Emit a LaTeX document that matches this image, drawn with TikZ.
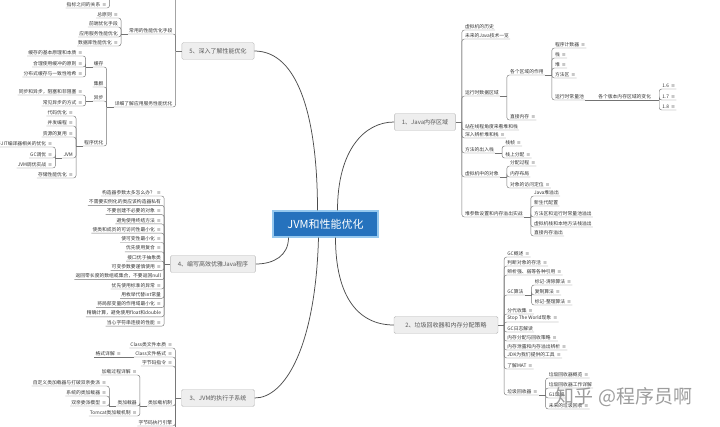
\documentclass[tikz,border=0pt]{standalone}
\usepackage{fontspec}
\setmainfont{Noto Sans CJK SC}
\newfontfamily\symfont{DejaVu Sans}
\usetikzlibrary{calc}

\definecolor{rootblue}{RGB}{38,114,189}
\definecolor{rootrim}{RGB}{150,200,238}
\definecolor{topicfill}{RGB}{238,238,238}
\definecolor{topicline}{RGB}{185,185,185}
\definecolor{twiggray}{RGB}{115,115,115}
\newcommand{\notemark}{\hspace{2pt}{\symfont\color{black!55}≡}}

\begin{document}
\begin{tikzpicture}[x=1pt, y=-1pt,
    rootbox/.style={fill=rootblue, draw=rootrim, line width=1.2pt, text=white, font=\fontsize{11}{13}\selectfont, minimum width=105pt, minimum height=26pt},
    topicbox/.style={fill=topicfill, draw=topicline, rounded corners=1.5pt, text=black!65, font=\fontsize{6}{7}\selectfont, inner xsep=7.5pt, minimum height=17pt},
    leafl/.style={anchor=south east, inner xsep=1pt, inner ysep=1.2pt, text=black!80, font=\fontsize{4.8}{5.5}\selectfont},
    leafr/.style={leafl, anchor=south west},
    mainline/.style={draw=black!70, line width=0.75pt},
    twig/.style={draw=twiggray, line width=0.45pt, rounded corners=2.5pt}
]
\useasboundingbox (0,0) rectangle (720,427);
\clip (0,0) rectangle (720,427);

% centre and main topics
\node[rootbox] (jvm) at (325.5,224) {JVM和性能优化};
\node[topicbox] (mem) at (425,122) {1、Java内存区域};
\node[topicbox, minimum width=104pt] (gc) at (446,325) {2、垃圾回收器和内存分配策略};
\node[topicbox, minimum width=73pt] (exec) at (218,398) {3、JVM的执行子系统};
\node[topicbox] (code) at (213,264) {4、编写高效优雅Java程序};
\node[topicbox] (deep) at (218,51) {5、深入了解性能优化};

\draw[mainline] ([xshift=12pt]jvm.north) .. controls +(0,-60) and +(-30,0) .. (mem.west);
\draw[mainline] ([xshift=10pt]jvm.south) .. controls +(0,60) and +(-35,0) .. (gc.west);
\draw[mainline] ([xshift=-7pt]jvm.south) .. controls +(-3,110) and +(30,0) .. (exec.east);
\draw[mainline] ([xshift=-37pt]jvm.south) .. controls +(0,18) and +(18,0) .. (code.east);
\draw[mainline] ([xshift=-8pt]jvm.north) .. controls +(0,-90) and +(45,0) .. (deep.east);

% 1 memory areas
\draw[twig] (mem.east) -- ++(6,0) coordinate (memF);
\node[leafr] (hist) at ($(mem.east)+(8,-92)$) {虚拟机的历史};
\node[leafr] (future) at ($(mem.east)+(8,-83)$) {未来的Java技术一览};
\node[leafr] (runtime) at ($(mem.east)+(8,-26)$) {运行时数据区域};
\node[leafr] (thread) at ($(mem.east)+(8,8)$) {站在线程角度来看堆和栈};
\node[leafr] (heapStack) at ($(mem.east)+(8,16)$) {深入辨析堆和栈\notemark};
\node[leafr] (frameIO) at ($(mem.east)+(8,31)$) {方法的出入栈};
\node[leafr] (objects) at ($(mem.east)+(8,55)$) {虚拟机中的对象};
\node[leafr] (heapOOM) at ($(mem.east)+(8,95)$) {堆参数设置和内存溢出实战};
\foreach \c in {hist,future,runtime,thread,heapStack,frameIO,objects,heapOOM}
  \draw[twig] (memF) |- (\c.south east);

\draw[twig] (runtime.south east) -- ++(7,0) coordinate (runtimeF);
\node[leafr] (areas) at ($(runtime.south east)+(9,-21)$) {各个区域的作用};
\node[leafr] (direct) at ($(runtime.south east)+(9,24)$) {直接内存\notemark};
\foreach \c in {areas,direct} \draw[twig] (runtimeF) |- (\c.south east);

\draw[twig] (areas.south east) -- ++(7,0) coordinate (areasF);
\node[leafr] (pc) at ($(areas.south east)+(9,-27)$) {程序计数器\notemark};
\node[leafr] (stack) at ($(areas.south east)+(9,-17)$) {栈\notemark};
\node[leafr] (heap) at ($(areas.south east)+(9,-7)$) {堆\notemark};
\node[leafr] (method) at ($(areas.south east)+(9,3)$) {方法区\notemark};
\node[leafr] (pool) at ($(areas.south east)+(9,25)$) {运行时常量池};
\foreach \c in {pc,stack,heap,method,pool} \draw[twig] (areasF) |- (\c.south east);

\node[leafr] (versions) at ($(pool.south east)+(12,0)$) {各个版本内存区域的变化};
\draw[twig] (pool.south east) -- (versions.south east);
\draw[twig] (versions.south east) -- ++(7,0) coordinate (versionsF);
\node[leafr] (v16) at ($(versions.south east)+(9,-11)$) {1.6\notemark};
\node[leafr] (v17) at ($(versions.south east)+(9,0)$) {1.7\notemark};
\node[leafr] (v18) at ($(versions.south east)+(9,10)$) {1.8\notemark};
\foreach \c in {v16,v17,v18} \draw[twig] (versionsF) |- (\c.south east);

\draw[twig] (frameIO.south east) -- ++(7,0) coordinate (frameIOF);
\node[leafr] (frame) at ($(frameIO.south east)+(9,-7)$) {栈帧\notemark};
\node[leafr] (stackAlloc) at ($(frameIO.south east)+(9,5)$) {栈上分配\notemark};
\foreach \c in {frame,stackAlloc} \draw[twig] (frameIOF) |- (\c.south east);

\draw[twig] (objects.south east) -- ++(7,0) coordinate (objectsF);
\node[leafr] (objAlloc) at ($(objects.south east)+(9,-11)$) {分配过程\notemark};
\node[leafr] (objLayout) at ($(objects.south east)+(9,0)$) {内存布局};
\node[leafr] (objLocate) at ($(objects.south east)+(9,11)$) {对象的访问定位\notemark};
\foreach \c in {objAlloc,objLayout,objLocate} \draw[twig] (objectsF) |- (\c.south east);

\draw[twig] (heapOOM.south east) -- ++(7,0) coordinate (heapOOMF);
\node[leafr] (oom1) at ($(heapOOM.south east)+(9,-21)$) {Java堆溢出};
\node[leafr] (oom2) at ($(heapOOM.south east)+(9,-11)$) {新生代配置};
\node[leafr] (oom3) at ($(heapOOM.south east)+(9,0)$) {方法区和运行时常量池溢出};
\node[leafr] (oom4) at ($(heapOOM.south east)+(9,10)$) {虚拟机栈和本地方法栈溢出};
\node[leafr] (oom5) at ($(heapOOM.south east)+(9,19)$) {直接内存溢出};
\foreach \c in {oom1,oom2,oom3,oom4,oom5} \draw[twig] (heapOOMF) |- (\c.south east);

% 2 garbage collection
\draw[twig] (gc.east) -- ++(6,0) coordinate (gcF);
\node[leafr] (gcIntro) at ($(gc.east)+(8,-68)$) {GC概述\notemark};
\node[leafr] (alive) at ($(gc.east)+(8,-59)$) {判断对象的存活\notemark};
\node[leafr] (refs) at ($(gc.east)+(8,-50)$) {辨析强、弱等各种引用\notemark};
\node[leafr] (algo) at ($(gc.east)+(8,-30)$) {GC算法};
\node[leafr] (gen) at ($(gc.east)+(8,-11)$) {分代收集\notemark};
\node[leafr] (stw) at ($(gc.east)+(8,-3)$) {Stop The World现象\notemark};
\node[leafr] (gcLog) at ($(gc.east)+(8,7)$) {GC日志解读};
\node[leafr] (allocRule) at ($(gc.east)+(8,16)$) {内存分配与回收策略\notemark};
\node[leafr] (leak) at ($(gc.east)+(8,25)$) {内存泄露和内存溢出辨析\notemark};
\node[leafr] (tools) at ($(gc.east)+(8,33)$) {JDK为我们提供的工具\notemark};
\node[leafr] (mat) at ($(gc.east)+(8,44)$) {了解MAT\notemark};
\node[leafr] (collectors) at ($(gc.east)+(8,70)$) {垃圾回收器\notemark};
\foreach \c in {gcIntro,alive,refs,algo,gen,stw,gcLog,allocRule,leak,tools,mat,collectors}
  \draw[twig] (gcF) |- (\c.south east);

\draw[twig] (algo.south east) -- ++(7,0) coordinate (algoF);
\node[leafr] (markSweep) at ($(algo.south east)+(9,-10)$) {标记-清除算法\notemark};
\node[leafr] (copying) at ($(algo.south east)+(9,0)$) {复制算法\notemark};
\node[leafr] (markCompact) at ($(algo.south east)+(9,10)$) {标记-整理算法\notemark};
\foreach \c in {markSweep,copying,markCompact} \draw[twig] (algoF) |- (\c.south east);

\draw[twig] (collectors.south east) -- ++(7,0) coordinate (collectorsF);
\node[leafr] (colAll) at ($(collectors.south east)+(9,-17)$) {垃圾回收器概览\notemark};
\node[leafr] (colWork) at ($(collectors.south east)+(9,-7)$) {垃圾回收器工作详解};
\node[leafr] (colG1) at ($(collectors.south east)+(9,3)$) {G1详解};
\node[leafr] (colNext) at ($(collectors.south east)+(9,14)$) {未来的垃圾回收\notemark};
\foreach \c in {colAll,colWork,colG1,colNext} \draw[twig] (collectorsF) |- (\c.south east);

% 3 execution subsystem
\draw[twig] (exec.west) -- ++(-6,0) coordinate (execF);
\node[leafl] (classEss) at ($(exec.west)+(-8,-50)$) {Class类文件本质\notemark};
\node[leafl] (classFmt) at ($(exec.west)+(-8,-41)$) {Class文件格式\notemark};
\node[leafl] (bytecode) at ($(exec.west)+(-8,-32)$) {字节码指令\notemark};
\node[leafl] (loadMech) at ($(exec.west)+(-8,8)$) {类加载机制};
\node[leafl] (engine) at ($(exec.west)+(-8,28)$) {字节码执行引擎};
\foreach \c in {classEss,classFmt,bytecode,loadMech,engine} \draw[twig] (execF) |- (\c.south west);
\draw[twig] (execF) -- ++(0,40);

\node[leafl] (fmtDetail) at ($(classFmt.south west)+(-12,0)$) {格式详解\notemark};
\draw[twig] (classFmt.south west) -- (fmtDetail.south west);

\draw[twig] (loadMech.south west) -- ++(-7,0) coordinate (loadMechF);
\node[leafl] (loadProc) at ($(loadMech.south west)+(-9,-31)$) {加载过程详解\notemark};
\node[leafl] (loader) at ($(loadMech.south west)+(-9,0)$) {类加载器};
\node[leafl] (tomcat) at ($(loadMech.south west)+(-9,10)$) {Tomcat类加载机制\notemark};
\foreach \c in {loadProc,loader,tomcat} \draw[twig] (loadMechF) |- (\c.south west);

\draw[twig] (loader.south west) -- ++(-7,0) coordinate (loaderF);
\node[leafl] (customLoader) at ($(loader.south west)+(-9,-20)$) {自定义类加载器与打破双亲委派\notemark};
\node[leafl] (sysLoader) at ($(loader.south west)+(-9,-10)$) {系统的类加载器\notemark};
\node[leafl] (parents) at ($(loader.south west)+(-9,0)$) {双亲委派模型\notemark};
\foreach \c in {customLoader,sysLoader,parents} \draw[twig] (loaderF) |- (\c.south west);

% 4 elegant java code
\draw[twig] (code.west) -- ++(-6,0) coordinate (codeF);
\foreach \t [count=\i] in {构造器参数太多怎么办？\notemark, 不需要实例化的类应该构造器私有,
    不要创建不必要的对象\notemark, 避免使用终结方法\notemark, 使类和成员的可访问性最小化\notemark,
    使可变性最小化\notemark, 优先使用复合\notemark, 接口优于抽象类, 可变参数要谨慎使用\notemark,
    返回零长度的数组或集合，不要返回null, 优先使用标准的异常\notemark, 用枚举代替int常量,
    将局部变量的作用域最小化\notemark, 精确计算，避免使用float和double, 当心字符串连接的性能\notemark} {
  \node[leafl] (code\i) at ($(code.west)+(-8,{-77.3+9.3*\i})$) {\t};
  \draw[twig] (codeF) |- (code\i.south west);
}

% 5 performance tuning
\draw[twig] (deep.west) -- ++(-6,0) coordinate (deepF);
\node[leafl] (perfIdx) at ($(deep.west)+(-8,-62)$) {常用的性能评价/测试指标};
\node[leafl] (perfMeans) at ($(deep.west)+(-8,-17)$) {常用的性能优化手段};
\node[leafl] (appPerf) at ($(deep.west)+(-8,56)$) {详细了解应用服务性能优化};
\foreach \c in {perfIdx,perfMeans,appPerf} \draw[twig] (deepF) |- (\c.south west);

\draw[twig] (perfIdx.south west) -- ++(-7,0) coordinate (perfIdxF);
\node[leafl] (idxRel) at ($(perfIdx.south west)+(-9,19)$) {指标之间的关系\notemark};
\draw[twig] (perfIdxF) |- (idxRel.south west);

\draw[twig] (perfMeans.south west) -- ++(-7,0) coordinate (perfMeansF);
\node[leafl] (mRule) at ($(perfMeans.south west)+(-9,-16)$) {总原则\notemark};
\node[leafl] (mFront) at ($(perfMeans.south west)+(-9,-7)$) {前端优化手段};
\node[leafl] (mApp) at ($(perfMeans.south west)+(-9,3)$) {应用服务性能优化};
\node[leafl] (mDb) at ($(perfMeans.south west)+(-9,12)$) {数据库性能优化\notemark};
\foreach \c in {mRule,mFront,mApp,mDb} \draw[twig] (perfMeansF) |- (\c.south west);

\draw[twig] (appPerf.south west) -- ++(-7,0) coordinate (appPerfF);
\node[leafl] (cache) at ($(appPerf.south west)+(-9,-40)$) {缓存};
\node[leafl] (cluster) at ($(appPerf.south west)+(-9,-20)$) {集群};
\node[leafl] (async) at ($(appPerf.south west)+(-9,-6)$) {异步};
\node[leafl] (prog) at ($(appPerf.south west)+(-9,39)$) {程序优化};
\foreach \c in {cache,cluster,async,prog} \draw[twig] (appPerfF) |- (\c.south west);

\draw[twig] (cache.south west) -- ++(-7,0) coordinate (cacheF);
\node[leafl] (cache1) at ($(cache.south west)+(-9,-11)$) {缓存的基本原理和本质\notemark};
\node[leafl] (cache2) at ($(cache.south west)+(-9,0)$) {合理使用缓冲的原则\notemark};
\node[leafl] (cache3) at ($(cache.south west)+(-9,10)$) {分布式缓存与一致性哈希\notemark};
\foreach \c in {cache1,cache2,cache3} \draw[twig] (cacheF) |- (\c.south west);

\draw[twig] (async.south west) -- ++(-7,0) coordinate (asyncF);
\node[leafl] (async1) at ($(async.south west)+(-9,-6)$) {同步和异步，阻塞和非阻塞\notemark};
\node[leafl] (async2) at ($(async.south west)+(-9,5)$) {常见异步的方式\notemark};
\foreach \c in {async1,async2} \draw[twig] (asyncF) |- (\c.south west);

\draw[twig] (prog.south west) -- ++(-7,0) coordinate (progF);
\node[leafl] (prog1) at ($(prog.south west)+(-9,-30)$) {代码优化\notemark};
\node[leafl] (prog2) at ($(prog.south west)+(-9,-20)$) {并发编程\notemark};
\node[leafl] (prog3) at ($(prog.south west)+(-9,-9)$) {资源的复用\notemark};
\node[leafl] (jvmOpt) at ($(prog.south west)+(-9,12)$) {JVM};
\node[leafl] (prog4) at ($(prog.south west)+(-9,32)$) {存储性能优化\notemark};
\foreach \c in {prog1,prog2,prog3,jvmOpt,prog4} \draw[twig] (progF) |- (\c.south west);

\draw[twig] (jvmOpt.south west) -- ++(-7,0) coordinate (jvmOptF);
\node[leafl] (jvm1) at ($(jvmOpt.south west)+(-9,-11)$) {与JIT编译器相关的优化\notemark};
\node[leafl] (jvm2) at ($(jvmOpt.south west)+(-9,0)$) {GC调优\notemark};
\node[leafl] (jvm3) at ($(jvmOpt.south west)+(-9,10)$) {JVM调优实战\notemark};
\foreach \c in {jvm1,jvm2,jvm3} \draw[twig] (jvmOptF) |- (\c.south west);

% watermark
\node[text=black!45, opacity=0.85, font=\fontsize{19}{21}\selectfont] (mark) at (624,397) {知乎 @程序员啊};
\end{tikzpicture}
\end{document}
